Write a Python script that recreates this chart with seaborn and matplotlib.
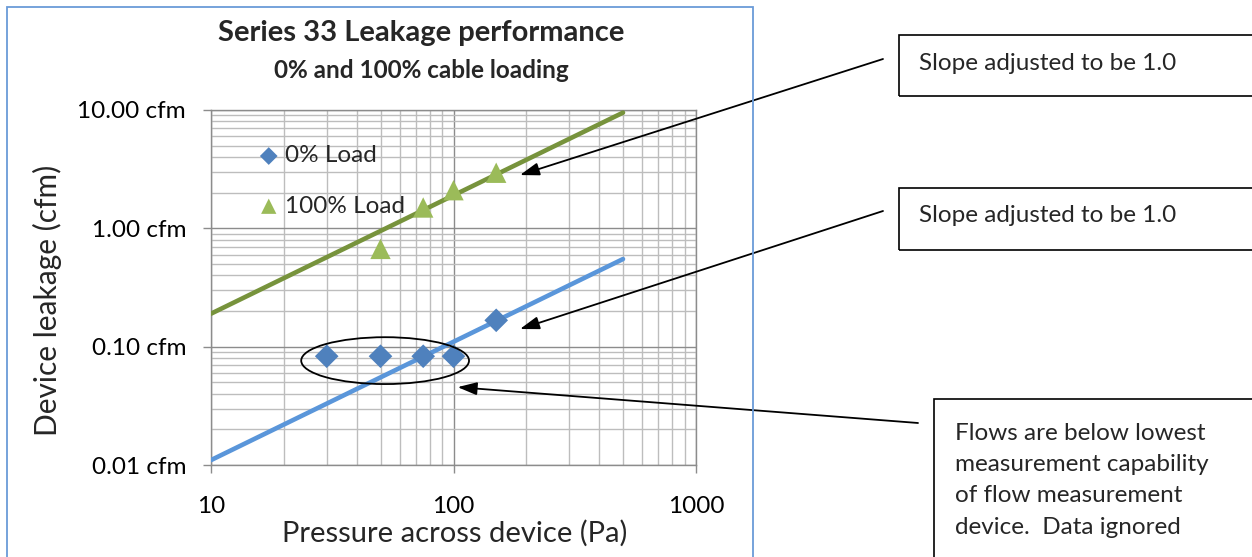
import matplotlib
matplotlib.use("Agg")
import matplotlib.pyplot as plt
import pandas as pd
import seaborn as sns
from matplotlib.patches import Ellipse, Rectangle
from matplotlib.ticker import FixedLocator, FuncFormatter, LogLocator, NullFormatter

# measured points
pressure_0 = [30, 50, 75, 100, 150]
leak_0 = [0.083, 0.083, 0.083, 0.083, 0.167]
pressure_100 = [50, 75, 100, 150]
leak_100 = [0.67, 1.5, 2.1, 2.95]

# slope-1 trend lines
trend_x = [10, 500]
trend_0 = [0.011, 0.55]
trend_100 = [0.19, 9.5]

x_ticks = [10, 100, 1000]
y_ticks = [0.01, 0.1, 1, 10]

BLUE_PT, BLUE_LINE = "#4F81BD", "#5A96DA"
GREEN_PT, GREEN_LINE = "#9BBB59", "#77933C"

sns.set_theme(style="white")
plt.rcParams["font.family"] = ["Lato", "DejaVu Sans"]

pts0 = pd.DataFrame({"pressure": pressure_0, "leak": leak_0})
pts100 = pd.DataFrame({"pressure": pressure_100, "leak": leak_100})
fit = pd.DataFrame({"pressure": trend_x * 2, "leak": trend_0 + trend_100,
                    "series": ["0"] * 2 + ["100"] * 2})

fig = plt.figure(figsize=(12.52, 5.57), dpi=100)
ax = fig.add_axes([211 / 1252, 92 / 557, 485 / 1252, 355 / 557])
ax.set_xscale("log")
ax.set_yscale("log")
ax.set_xlim(10, 1000)
ax.set_ylim(0.01, 10)

sns.lineplot(data=fit, x="pressure", y="leak", hue="series",
             palette={"0": BLUE_LINE, "100": GREEN_LINE}, lw=3.3, ax=ax,
             legend=False, zorder=3)
sns.scatterplot(data=pts0, x="pressure", y="leak", marker="D", s=145,
                color=BLUE_PT, edgecolor="none", ax=ax, zorder=4, label="0% Load")
sns.scatterplot(data=pts100, x="pressure", y="leak", marker="^", s=215,
                color=GREEN_PT, edgecolor="none", ax=ax, zorder=4, label="100% Load")

ax.xaxis.set_major_locator(FixedLocator(x_ticks))
ax.yaxis.set_major_locator(FixedLocator(y_ticks))
ax.xaxis.set_minor_locator(LogLocator(base=10, subs=range(2, 10)))
ax.yaxis.set_minor_locator(LogLocator(base=10, subs=range(2, 10)))
ax.xaxis.set_major_formatter(FuncFormatter(lambda v, p: f"{v:g}"))
ax.yaxis.set_major_formatter(FuncFormatter(lambda v, p: f"{v:.2f} cfm"))
ax.xaxis.set_minor_formatter(NullFormatter())
ax.yaxis.set_minor_formatter(NullFormatter())
ax.grid(True, which="major", color="#8C8C8C", lw=1.0)
ax.grid(True, which="minor", color="#BDBDBD", lw=1.0)
ax.set_axisbelow(True)
for side, sp in ax.spines.items():
    sp.set_color("#8C8C8C")
    sp.set_linewidth(1.0)
ax.tick_params(which="major", length=6, width=1.0, color="#8C8C8C",
               labelsize=17.5, labelcolor="black")
ax.tick_params(axis="x", which="major", bottom=True, pad=16)
ax.tick_params(axis="y", which="major", left=True, pad=12)
ax.tick_params(which="minor", length=0)

ax.set_xlabel("Pressure across device (Pa)", fontsize=21)
ax.set_ylabel("Device leakage (cfm)", fontsize=21.5)
ax.xaxis.set_label_coords(0.503, -0.155)
ax.yaxis.set_label_coords(-0.308, 0.465)

ax.legend(loc="center left", bbox_to_anchor=(0.099, 0.80), frameon=False,
          fontsize=17.5, handlelength=0.8, handletextpad=0.25, labelspacing=1.2,
          borderpad=0, borderaxespad=0, markerscale=0.75)

fig.text(421 / 1252, 1 - 33 / 557, "Series 33 Leakage performance", ha="center",
         va="center", fontsize=21, fontweight="bold")
fig.text(421 / 1252, 1 - 70 / 557, "0% and 100% cable loading", ha="center",
         va="center", fontsize=17.5, fontweight="bold")

# ellipse around the ignored points
ax.add_patch(Ellipse((0.359, 0.294), 0.346, 0.132, transform=ax.transAxes,
                     fill=False, ec="black", lw=1.3, zorder=5))

# chart frame
fig.patches.append(Rectangle((7 / 1252, -0.05), 746 / 1252, 550 / 557 + 0.05,
                             transform=fig.transFigure, fill=False,
                             ec="#6A9BD8", lw=1.3))

# callout boxes
for x0, y0, y1 in [(899, 35, 96), (899, 188, 250), (934, 399, 600)]:
    fig.patches.append(Rectangle((x0 / 1252, 1 - y1 / 557), 400 / 1252, (y1 - y0) / 557,
                                 transform=fig.transFigure, fill=False,
                                 ec="black", lw=1.2))
fig.text(919 / 1252, 1 - 63 / 557, "Slope adjusted to be 1.0", va="center", fontsize=17.5)
fig.text(919 / 1252, 1 - 216 / 557, "Slope adjusted to be 1.0", va="center", fontsize=17.5)
fig.text(955 / 1252, 1 - 423 / 557,
         "Flows are below lowest\nmeasurement capability\nof flow measurement\ndevice.  Data ignored",
         va="top", fontsize=17.5, linespacing=1.6)

arrow = dict(arrowstyle="-|>,head_length=0.9,head_width=0.3", color="black",
             lw=1.3, shrinkA=0, shrinkB=0, mutation_scale=13)
for head, tail in [((188, 2.82), (883, 59)), ((188, 0.141), (883, 211)),
                   ((104, 0.0455), (918, 423))]:
    ax.annotate("", xy=head, xycoords="data",
                xytext=(tail[0] / 1252, 1 - tail[1] / 557), textcoords="figure fraction",
                arrowprops=arrow, annotation_clip=False)

fig.savefig("out.png", dpi=100)
